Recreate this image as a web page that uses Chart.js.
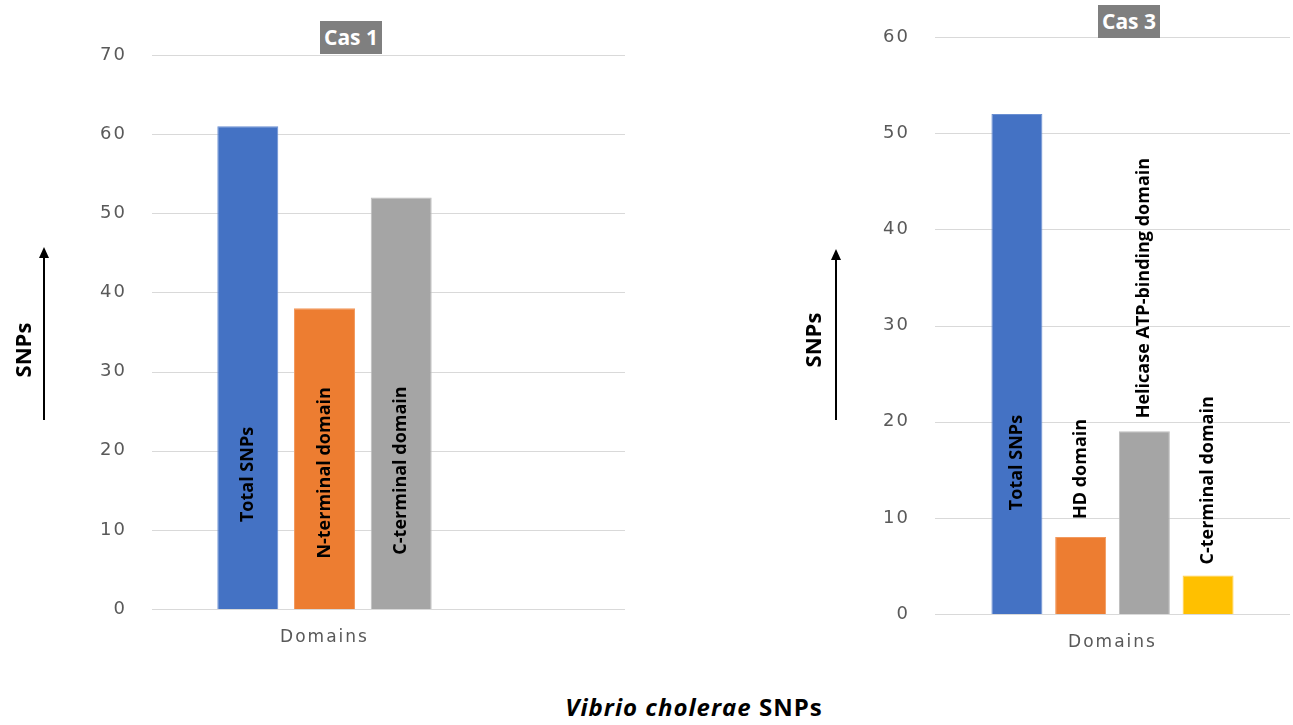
<!DOCTYPE html>
<html>
<head>
<meta charset="utf-8">
<script src="https://cdn.jsdelivr.net/npm/chart.js@4.4.1/dist/chart.umd.min.js"></script>
<style>
  html, body { margin: 0; padding: 0; background: #fff; }
  body { width: 1293px; height: 725px; position: relative; overflow: hidden; font-family: "Open Sans", sans-serif; }
  canvas { position: absolute; top: 0; }
  .title { position: absolute; width: 62px; height: 33px; line-height: 33px; background: #7f7f7f; color: #fff;
           font-weight: bold; font-size: 21px; text-align: center; }
  .snps { position: absolute; font-weight: bold; font-size: 22px; color: #000;
          transform: translate(-50%, -50%) rotate(-90deg); white-space: nowrap; }
  .shaft { position: absolute; width: 2px; background: #000; }
  .head { position: absolute; width: 0; height: 0; border-left: 5px solid transparent;
          border-right: 5px solid transparent; border-bottom: 11px solid #000; }
  .caption { position: absolute; left: 694px; top: 707px; transform: translate(-50%, -50%);
             font-weight: bold; font-size: 24px; line-height: 30px; letter-spacing: 1px; white-space: nowrap; }
</style>
</head>
<body>
<canvas id="cas1" width="660" height="660" style="left:0"></canvas>
<canvas id="cas3" width="643" height="660" style="left:650px"></canvas>

<div class="title" style="left:320px;top:21px">Cas 1</div>
<div class="title" style="left:1098px;top:5px">Cas 3</div>

<div class="snps" style="left:22px;top:350px">SNPs</div>
<div class="shaft" style="left:43px;top:256px;height:164px"></div>
<div class="head" style="left:39px;top:247px"></div>

<div class="snps" style="left:812px;top:340px">SNPs</div>
<div class="shaft" style="left:835px;top:258px;height:162px"></div>
<div class="head" style="left:831px;top:249px"></div>

<div class="caption"><i>Vibrio cholerae</i> SNPs</div>

<script>
// Cas 1
const cas1Category = ['Domains'];
const cas1Series = ['Total SNPs', 'N-terminal domain', 'C-terminal domain'];
const cas1Values = [61, 38, 52];
const cas1Ticks = { min: 0, max: 70, step: 10 };

// Cas 3
const cas3Category = ['Domains'];
const cas3Series = ['Total SNPs', 'HD domain', 'Helicase ATP-binding domain', 'C-terminal domain'];
const cas3Values = [52, 8, 19, 4];
const cas3Ticks = { min: 0, max: 60, step: 10 };

const fills = ['#4472c4', '#ed7d31', '#a5a5a5', '#ffc000'];
const edges = ['#6a8fd2', '#f29a5f', '#bdbdbd', '#ffcf4d'];

// gridlines drawn from the y scale; Cas 1 lines run past the category band
function gridLines(rightEdge) {
  return {
    id: 'gridLines',
    beforeDraw(chart) {
      chart.ctx.letterSpacing = '2px';
    },
    beforeDatasetsDraw(chart) {
      const { ctx, chartArea, scales: { y } } = chart;
      ctx.letterSpacing = '0px';
      ctx.save();
      ctx.strokeStyle = '#d9d9d9';
      ctx.lineWidth = 1;
      const right = rightEdge || chartArea.right;
      y.ticks.forEach(t => {
        const py = Math.round(y.getPixelForValue(t.value)) + 0.5;
        ctx.beginPath();
        ctx.moveTo(chartArea.left, py);
        ctx.lineTo(right, py);
        ctx.stroke();
      });
      ctx.restore();
    }
  };
}

// rotated series names on / above each bar
function barLabels(place) {
  return {
    id: 'barLabels',
    afterDatasetsDraw(chart) {
      const { ctx, scales: { y } } = chart;
      chart.data.datasets.forEach((ds, i) => {
        const bar = chart.getDatasetMeta(i).data[0];
        const p = place[i];
        ctx.save();
        ctx.font = 'bold 18px "Open Sans"';
        ctx.fillStyle = '#000';
        ctx.textBaseline = 'middle';
        let py;
        if ('at' in p) {
          py = y.getPixelForValue(p.at);
          ctx.textAlign = 'center';
        } else {
          py = bar.y - p.gap;
          ctx.textAlign = 'left';
        }
        ctx.translate(bar.x, py);
        ctx.rotate(-Math.PI / 2);
        ctx.fillText(ds.label, 0, 0);
        ctx.restore();
      });
    }
  };
}

function makeChart(id, labels, series, values, ticks, opt) {
  return new Chart(document.getElementById(id), {
    type: 'bar',
    data: {
      labels: labels,
      datasets: series.map((name, i) => ({
        label: name,
        data: [values[i]],
        backgroundColor: fills[i],
        borderColor: edges[i],
        borderWidth: 1,
        categoryPercentage: opt.catPct,
        barPercentage: opt.barPct
      }))
    },
    options: {
      responsive: false,
      animation: false,
      devicePixelRatio: 1,
      layout: { padding: opt.padding },
      plugins: {
        legend: { display: false },
        tooltip: { enabled: false },
        title: { display: false }
      },
      scales: {
        x: {
          grid: { display: false, drawTicks: false },
          border: { display: false },
          ticks: { color: '#595959', font: { family: 'DejaVu Sans', size: 17 }, padding: 18 },
          afterFit: s => { s.height = 44; }
        },
        y: {
          min: ticks.min,
          max: ticks.max,
          grid: { display: false, drawTicks: false },
          border: { display: false },
          ticks: { stepSize: ticks.step, color: '#595959', font: { family: 'DejaVu Sans', size: 18 }, padding: 25 },
          afterFit: s => { s.width = opt.yWidth; }
        }
      }
    },
    plugins: [gridLines(opt.gridRight), barLabels(opt.place)]
  });
}

makeChart('cas1', cas1Category, cas1Series, cas1Values, cas1Ticks, {
  padding: { left: 0, top: 55, right: 163, bottom: 7 },
  yWidth: 152,
  gridRight: 625,
  catPct: 0.667,
  barPct: 0.795,
  place: [{ at: 17 }, { at: 17.2 }, { at: 17.5 }]
});

makeChart('cas3', cas3Category, cas3Series, cas3Values, cas3Ticks, {
  padding: { left: 0, top: 37, right: 3, bottom: 2 },
  yWidth: 285,
  gridRight: null,
  catPct: 0.718,
  barPct: 0.8,
  place: [{ at: 15.75 }, { gap: 18 }, { gap: 13 }, { gap: 11 }]
});
</script>
</body>
</html>
